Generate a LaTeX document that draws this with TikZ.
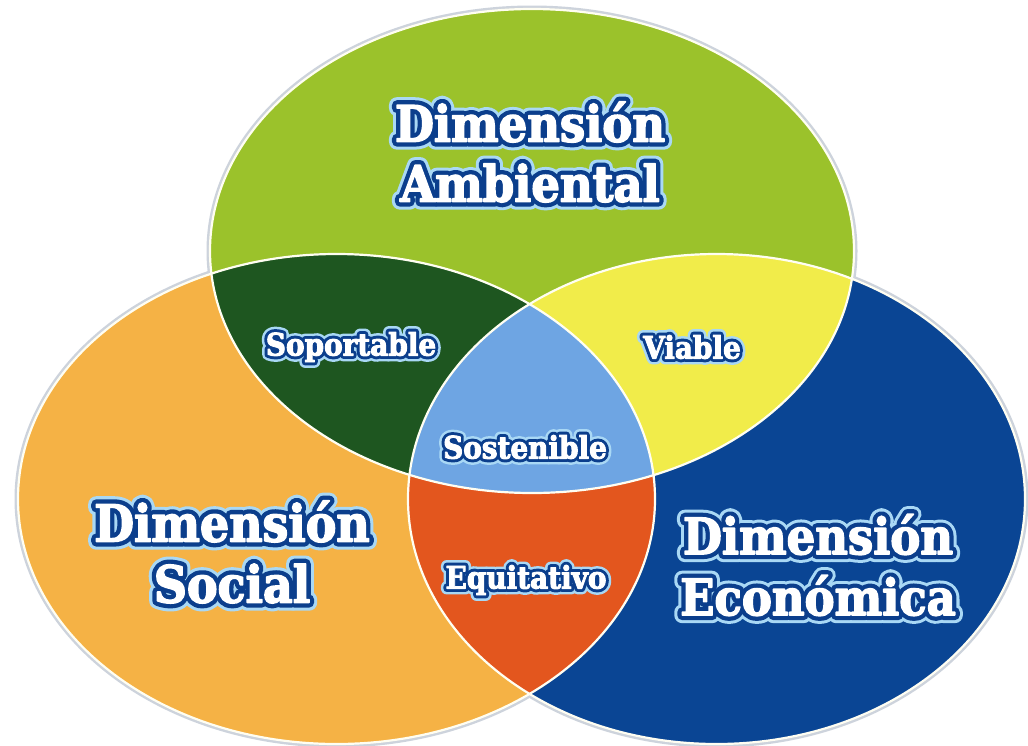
\documentclass[tikz,border=0pt]{standalone}
\usepackage{fontspec}
\setmainfont{DejaVu Serif Condensed}
\newfontface\whiteF{DejaVu Serif Condensed Bold}[FakeBold=3]
\newfontface\edgeBig{DejaVu Serif Condensed Bold}[FakeBold=20]
\newfontface\glowBig{DejaVu Serif Condensed Bold}[FakeBold=32]
\newfontface\edgeSmall{DejaVu Serif Condensed Bold}[FakeBold=22]
\newfontface\glowSmall{DejaVu Serif Condensed Bold}[FakeBold=38]
\definecolor{cAmb}{HTML}{9BC22B}
\definecolor{cSoc}{HTML}{F5B245}
\definecolor{cEco}{HTML}{0A4594}
\definecolor{cSop}{HTML}{1E5620}
\definecolor{cVia}{HTML}{F1EC4A}
\definecolor{cEqu}{HTML}{E3561E}
\definecolor{cSos}{HTML}{6EA5E3}
\definecolor{cEdge}{HTML}{0B3E8C}
\definecolor{cGlow}{HTML}{A9D8F5}
\definecolor{cHalo}{HTML}{CDD3DC}
% name, coordinate name, font size, baselineskip, text, edge face, glow face
\newcommand\outlbl[7]{%
  \node[lbl,font=\fontsize{#3}{#4}#7,text=cGlow] (#1g) at (#2) {#5};
  \node[lbl,font=\fontsize{#3}{#4}#6,text=cEdge] (#1e) at (#2) {#5};
  \node[lbl,font=\fontsize{#3}{#4}\whiteF,text=white] (#1) at (#2) {#5};
}
\begin{document}
\begin{tikzpicture}[x=1pt,y=-1pt,
  lbl/.style={align=center,inner sep=0pt,line join=round},
  halo/.style={draw=cHalo,line width=7pt},
  rim/.style={draw=white!95!yellow,line width=2.2pt}]
\useasboundingbox[fill=white] (0,0) rectangle (1028,745);
\def\pA{(532,251) ellipse [x radius=322pt, y radius=242pt]}
\def\pS{(336.5,499) ellipse [x radius=318.5pt, y radius=245pt]}
\def\pE{(716.5,499) ellipse [x radius=308.5pt, y radius=245pt]}
% outer halo
\draw[halo] \pA; \draw[halo] \pS; \draw[halo] \pE;
% base fills
\fill[cAmb] \pA;
\fill[cSoc] \pS;
\fill[cEco] \pE;
% pairwise intersections
\begin{scope}\clip \pA; \fill[cSop] \pS; \fill[cVia] \pE; \end{scope}
\begin{scope}\clip \pS; \fill[cEqu] \pE; \end{scope}
% triple intersection
\begin{scope}\clip \pA; \clip \pS; \fill[cSos] \pE; \end{scope}
% rims
\draw[rim] \pA; \draw[rim] \pS; \draw[rim] \pE;
% labels
\coordinate (tA) at (530,152);
\coordinate (tS) at (232,552);
\coordinate (tE) at (818,565);
\coordinate (tSop) at (351,347);
\coordinate (tVia) at (692,347);
\coordinate (tSos) at (525,447);
\coordinate (tEqu) at (526,580);
\outlbl{amb}{tA}{50}{60pt}{Dimensión\\Ambiental}{\edgeBig}{\glowBig}
\outlbl{soc}{tS}{51}{61pt}{Dimensión\\Social}{\edgeBig}{\glowBig}
\outlbl{eco}{tE}{50}{61pt}{Dimensión\\Económica}{\edgeBig}{\glowBig}
\outlbl{sop}{tSop}{31}{36pt}{Soportable}{\edgeSmall}{\glowSmall}
\outlbl{via}{tVia}{31}{36pt}{Viable}{\edgeSmall}{\glowSmall}
\outlbl{sos}{tSos}{31}{36pt}{Sostenible}{\edgeSmall}{\glowSmall}
\outlbl{equ}{tEqu}{31}{36pt}{Equitativo}{\edgeSmall}{\glowSmall}
\end{tikzpicture}
\end{document}
